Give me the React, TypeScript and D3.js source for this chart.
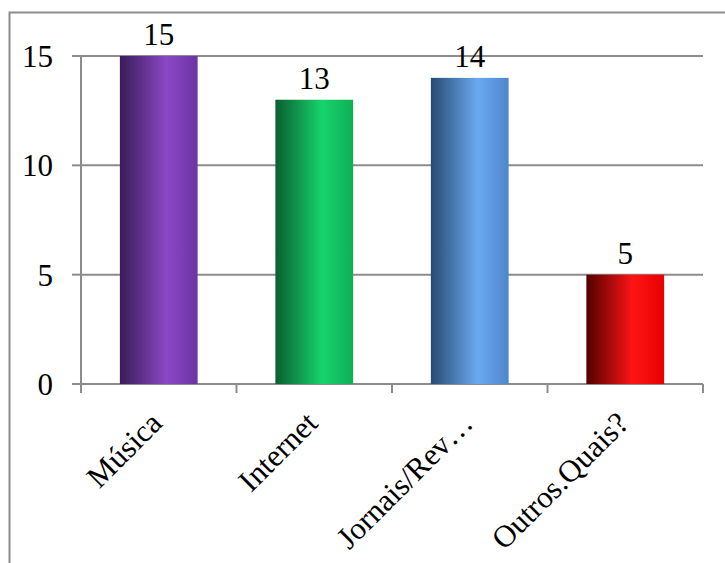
import React from "react";
import * as d3 from "d3";

const categories = ["Música", "Internet", "Jornais/Rev…", "Outros.Quais?"];
const values = [15, 13, 14, 5];
const yTicks = [0, 5, 10, 15];
// gradient stops per bar: dark edge, highlight, right edge
const barColors = [
  ["#3a1c58", "#8a48c4", "#6c34a4"],
  ["#0a5e30", "#16d36c", "#0fb055"],
  ["#264a72", "#6aa9f0", "#4f86cc"],
  ["#520000", "#ff1414", "#e60000"],
];

const W = 725;
const H = 563;
const plot = { left: 81, right: 703, top: 56, bottom: 384 };
const FONT = "'Liberation Serif', 'Times New Roman', serif";
const FS = 31;

export default function App() {
  const x = d3
    .scaleBand<string>()
    .domain(categories)
    .range([plot.left, plot.right])
    .paddingInner(0.5)
    .paddingOuter(0.25);
  const y = d3.scaleLinear().domain([0, 15]).range([plot.bottom, plot.top]);
  const step = x.step();
  const boundaries = d3.range(categories.length + 1).map((i) => plot.left + i * step);

  return (
    <svg
      width={W}
      height={H}
      style={{ position: "absolute", left: 0, top: 0, background: "#fff" }}
      fontFamily={FONT}
    >
      <defs>
        {barColors.map((c, i) => (
          <linearGradient key={i} id={`bar${i}`} x1="0" x2="1" y1="0" y2="0">
            <stop offset="0" stopColor={c[0]} />
            <stop offset="0.6" stopColor={c[1]} />
            <stop offset="1" stopColor={c[2]} />
          </linearGradient>
        ))}
      </defs>
      {/* chart frame */}
      <rect x={9.5} y={12.5} width={740} height={560} fill="none" stroke="#8c8c8c" strokeWidth={2} />

      {/* gridlines and y ticks */}
      {yTicks.map((t) => (
        <g key={t}>
          <line x1={plot.left} x2={plot.right} y1={y(t)} y2={y(t)} stroke="#8c8c8c" strokeWidth={2} />
          <line x1={72} x2={plot.left} y1={y(t)} y2={y(t)} stroke="#8c8c8c" strokeWidth={2} />
          <text x={53} y={y(t)} dy="0.35em" textAnchor="end" fontSize={FS} fill="#000">
            {t}
          </text>
        </g>
      ))}
      {/* y axis */}
      <line x1={plot.left} x2={plot.left} y1={plot.top} y2={plot.bottom + 9} stroke="#8c8c8c" strokeWidth={2} />
      {/* category ticks */}
      {boundaries.map((bx, i) => (
        <line key={i} x1={bx} x2={bx} y1={plot.bottom} y2={plot.bottom + 9} stroke="#8c8c8c" strokeWidth={2} />
      ))}

      {/* bars */}
      {categories.map((c, i) => (
        <g key={c}>
          <rect
            x={x(c)}
            y={y(values[i])}
            width={x.bandwidth()}
            height={y(0) - y(values[i])}
            fill={`url(#bar${i})`}
          />
          <text
            x={(x(c) as number) + x.bandwidth() / 2}
            y={y(values[i]) - 11}
            textAnchor="middle"
            fontSize={FS}
            fill="#000"
          >
            {values[i]}
          </text>
        </g>
      ))}

      {/* category labels */}
      {categories.map((c) => {
        const cx = (x(c) as number) + x.bandwidth() / 2 + 5;
        const cy = plot.bottom + 41;
        return (
          <text
            key={c}
            transform={`translate(${cx},${cy}) rotate(-45)`}
            textAnchor="end"
            fontSize={FS}
            fill="#000"
          >
            {c}
          </text>
        );
      })}
    </svg>
  );
}
